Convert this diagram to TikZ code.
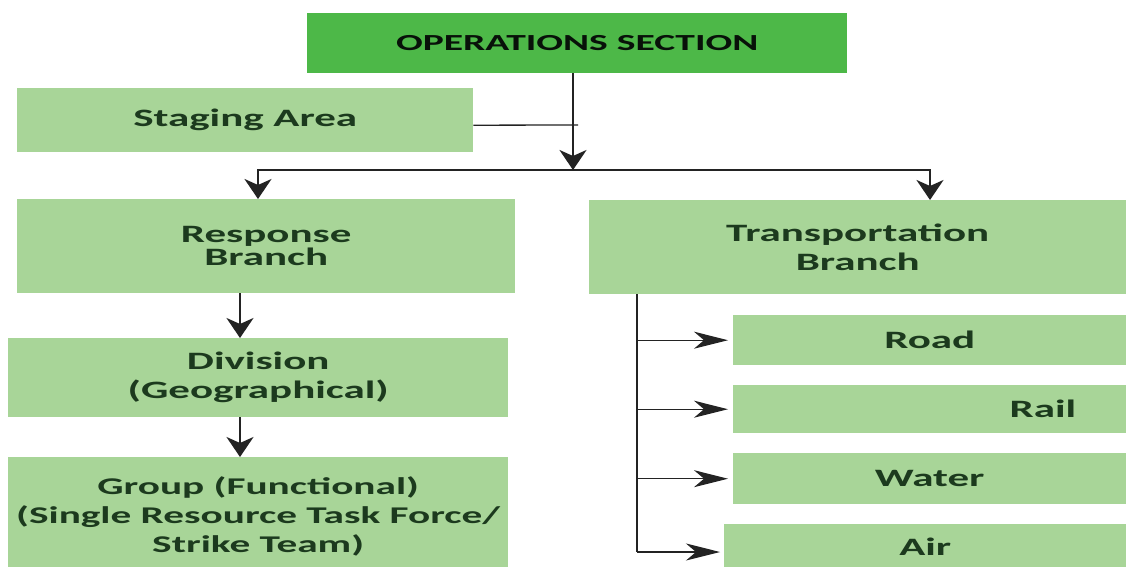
\documentclass[tikz,border=0pt]{standalone}
\usepackage{fontspec}
\setmainfont{Carlito}[FakeStretch=1.72]
\usetikzlibrary{arrows.meta,calc}
\definecolor{opsgreen}{RGB}{77,184,72}
\definecolor{boxgreen}{RGB}{168,213,152}
\definecolor{txtgreen}{RGB}{28,58,30}
\definecolor{linegray}{RGB}{35,35,35}

\begin{document}
\begin{tikzpicture}[x=1pt,y=-1pt,
  box/.style={rectangle, fill=boxgreen, anchor=north west, inner sep=0pt,
    align=center, text=txtgreen,
    font=\fontsize{25}{29}\selectfont\bfseries},
  smalltext/.style={font=\fontsize{24}{29}\selectfont\bfseries},
  opsbox/.style={box, fill=opsgreen, text=black!70!txtgreen,
    font=\fontsize{23}{28}\selectfont\bfseries},
  thickline/.style={draw=linegray, line width=2.2pt},
  thinline/.style={draw=linegray, line width=1.3pt},
  bigtip/.tip={Stealth[length=20pt,width=27pt,inset=6pt]},
  bigarr/.style={thickline, -bigtip},
  twoarr/.style={thickline, bigtip-bigtip},
  sidearr/.style={thinline, -{Stealth[length=34pt,width=17pt,inset=10pt]}}
]
\clip (0,0) rectangle (1129,567);
\fill[white] (0,0) rectangle (1129,567);

% boxes
\node[opsbox, minimum width=540pt, minimum height=60pt] (ops) at (307,13) {OPERATIONS SECTION};
\node[box, minimum width=456pt, minimum height=64pt] (staging) at (17,88) {Staging Area};
\node[box, minimum width=498pt, minimum height=94pt] (response) at (17,199) {Response\\[-6pt]Branch};
\node[box, minimum width=537pt, minimum height=94pt] (transport) at (589,200) {Transportation\\Branch};
\node[box, minimum width=500pt, minimum height=79pt] (division) at (8,338) {Division\\(Geographical)};
\node[box, smalltext, minimum width=500pt, minimum height=118pt] (group) at (8,457) {Group (Functional)\\(Single Resource Task Force/\\Strike Team)};
\node[box, minimum width=393pt, minimum height=50pt] (road) at (733,315) {Road};
\node[box, minimum width=393pt, minimum height=48pt, text width=293pt, inner xsep=50pt, align=right] (rail) at (733,385) {Rail};
\node[box, minimum width=393pt, minimum height=51pt] (water) at (733,453) {Water};
\node[box, minimum width=402pt, minimum height=46pt] (air) at (724,524) {Air};

% junction points
\coordinate (mid) at (573,170);
\coordinate (hl) at (258,170);
\coordinate (hr) at (930,170);
\coordinate (sj) at (578,125);
\coordinate (lc) at (240,0);
\coordinate (tv) at (637,0);
\coordinate (tvb) at (637,552);

% top connectors
\draw[bigarr] (ops.south -| mid) -- (mid);
\draw[thinline] ([yshift=-5pt]staging.east) -- (sj);
\draw[twoarr] (response.north -| hl) -- (hl) -- (hr) -- (transport.north -| hr);

% response chain
\draw[bigarr] (response.south -| lc) -- (division.north -| lc);
\draw[bigarr] (division.south -| lc) -- (group.north -| lc);

% transportation chain
\draw[thickline] (transport.south -| tv) -- (tvb);
\draw[sidearr] (tv |- road.west) -- ([xshift=-5pt]road.west);
\draw[sidearr] (tv |- rail.west) -- ([xshift=-5pt]rail.west);
\draw[sidearr] (tv |- water.west) -- ([xshift=-5pt]water.west);
\draw[sidearr] (tvb -| tv) -- ([xshift=-4pt]tvb -| air.west);
\end{tikzpicture}
\end{document}
